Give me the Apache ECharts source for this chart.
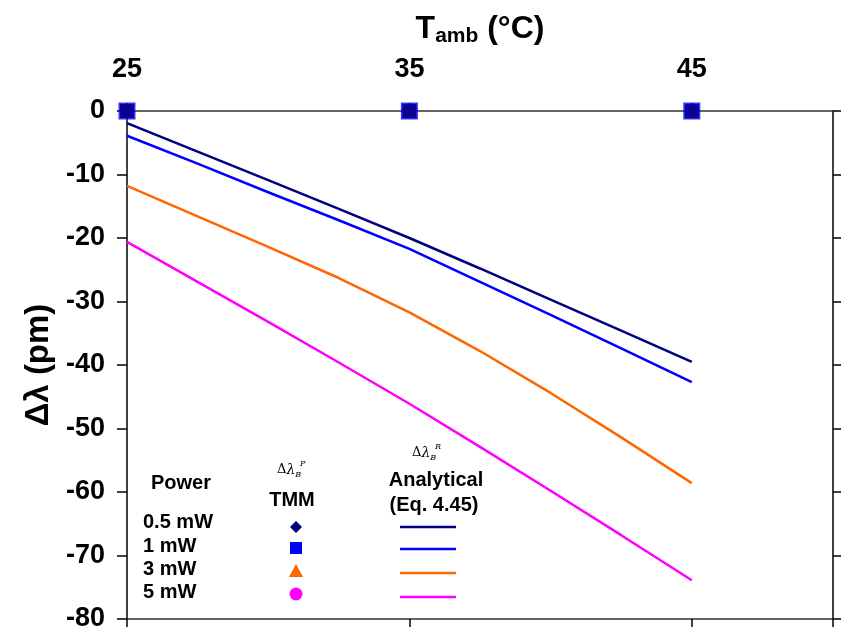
<!DOCTYPE html>
<html>
<head>
<meta charset="utf-8">
<script src="https://cdn.jsdelivr.net/npm/echarts@6/dist/echarts.min.js"></script>
<style>
  html, body { margin: 0; padding: 0; background: #fff; }
  #chart { width: 841px; height: 636px; }
</style>
</head>
<body>
<div id="chart"></div>
<script>
// Ambient temperature (°C) sampled by the analytical model
const temps = [25, 27.5, 30, 32.5, 35, 37.5, 40, 42.5, 45];
// Analytical wavelength shift (pm) per heater power
const analytical05mW = [-1.9, -6.4, -10.9, -15.4, -20.0, -24.8, -29.7, -34.6, -39.5];
const analytical1mW  = [-3.9, -8.3, -12.8, -17.2, -21.7, -26.9, -32.1, -37.4, -42.7];
const analytical3mW  = [-11.8, -16.6, -21.4, -26.3, -31.7, -37.8, -44.4, -51.4, -58.6];
const analytical5mW  = [-20.6, -26.9, -33.2, -39.6, -46.1, -52.9, -59.8, -66.8, -73.9];

// TMM simulation points
const tmmTemps = [25, 35, 45];
const tmm05mW = [0, 0, 0];
const tmm1mW  = [0, 0, 0];
const tmm3mW  = [0, 0, 0];
const tmm5mW  = [0, 0, 0];

// Axis tick labels
const xTickLabels = [25, 35, 45];
const powers = ['0.5 mW', '1 mW', '3 mW', '5 mW'];

const colors = ['#000080', '#0000FF', '#FF6600', '#FF00FF'];
const FONT = '"Liberation Sans", Arial, sans-serif';
const LFONT = '"Liberation Sans", Arial, sans-serif';

const pairs = (xs, ys) => xs.map((x, i) => [x, ys[i]]);

const chart = echarts.init(document.getElementById('chart'), null, { renderer: 'canvas' });

const lineSeries = [analytical05mW, analytical1mW, analytical3mW, analytical5mW].map((vals, i) => ({
  name: 'Analytical ' + powers[i],
  type: 'line',
  data: pairs(temps, vals),
  symbol: 'none',
  smooth: false,
  lineStyle: { color: colors[i], width: 2.5 },
  z: 3
}));

// TMM markers; drawn back to front so the 0.5 mW marker sits on top
const tmmSpec = [
  { vals: tmm5mW, color: colors[3], symbol: 'circle', size: 15 },
  { vals: tmm3mW, color: colors[2], symbol: 'triangle', size: 15 },
  { vals: tmm1mW, color: colors[1], symbol: 'rect', size: 17 },
  { vals: tmm05mW, color: colors[0], symbol: 'rect', size: 14 }
];
const scatterSeries = tmmSpec.map((s, i) => ({
  name: 'TMM ' + i,
  type: 'scatter',
  data: pairs(tmmTemps, s.vals),
  symbol: s.symbol,
  symbolSize: s.size,
  itemStyle: { color: s.color },
  clip: false,
  z: 5 + i
}));

// Legend table drawn as graphic elements
const legendX = { power: 143, marker: 296, lineStart: 400, lineEnd: 456 };
const rowY = [522, 546, 569, 592];
const markerY = [527, 548, 571, 594];
const lineY = [527, 549, 573, 597];
const legendSymbols = [
  { type: 'polygon', shape: { points: [[0, -6], [6, 0], [0, 6], [-6, 0]] } },
  { type: 'rect', shape: { x: -6, y: -6, width: 12, height: 12 } },
  { type: 'polygon', shape: { points: [[0, -7], [7, 6], [-7, 6]] } },
  { type: 'circle', shape: { cx: 0, cy: 0, r: 6.5 } }
];
const LEG_FONT = 'bold 20px ' + LFONT;
const deltaRich = {
  d: { font: '13px "DejaVu Serif", serif' },
  l: { font: 'italic 14px "DejaVu Serif", serif' },
  s: { font: 'italic 8px "DejaVu Serif", serif', padding: [9, 0, 0, 0] }
};

const graphic = [
  { type: 'text', x: 181, y: 483, style: { text: 'Power', font: LEG_FONT, fill: '#000', align: 'center', verticalAlign: 'middle' } },
  { type: 'text', x: 292, y: 500, style: { text: 'TMM', font: LEG_FONT, fill: '#000', align: 'center', verticalAlign: 'middle' } },
  { type: 'text', x: 436, y: 480, style: { text: 'Analytical', font: LEG_FONT, fill: '#000', align: 'center', verticalAlign: 'middle' } },
  { type: 'text', x: 434, y: 505, style: { text: '(Eq. 4.45)', font: LEG_FONT, fill: '#000', align: 'center', verticalAlign: 'middle' } },
  { type: 'text', x: 277, y: 470, style: { text: '{d|Δ}{l|λ}{s|B}', verticalAlign: 'middle', fill: '#000', rich: deltaRich } },
  { type: 'text', x: 300, y: 460, style: { text: 'P', font: 'italic 8px "DejaVu Serif", serif', fill: '#000' } },
  { type: 'text', x: 412, y: 453, style: { text: '{d|Δ}{l|λ}{s|B}', verticalAlign: 'middle', fill: '#000', rich: deltaRich } },
  { type: 'text', x: 435, y: 443, style: { text: 'R', font: 'italic 8px "DejaVu Serif", serif', fill: '#000' } }
];
powers.forEach((p, i) => {
  graphic.push({ type: 'text', x: legendX.power, y: rowY[i], style: { text: p, font: LEG_FONT, fill: '#000', verticalAlign: 'middle' } });
  const sym = Object.assign({}, legendSymbols[i], { x: legendX.marker, y: markerY[i], style: { fill: colors[i] } });
  graphic.push(sym);
  graphic.push({ type: 'line', shape: { x1: legendX.lineStart, y1: lineY[i], x2: legendX.lineEnd, y2: lineY[i] }, style: { stroke: colors[i], lineWidth: 2.5 } });
});

const axisLineStyle = { color: '#333', width: 1.5 };

const option = {
  backgroundColor: '#fff',
  animation: false,
  grid: { left: 127, right: 8, top: 111, bottom: 17, containLabel: false },
  xAxis: [
    {
      type: 'value', position: 'top', min: 25, max: 50, interval: 10,
      name: 'T{sub|amb} (°C)', nameLocation: 'middle', nameGap: 64,
      nameTextStyle: {
        fontFamily: LFONT, fontWeight: 'bold', fontSize: 32, color: '#000',
        rich: { sub: { fontFamily: LFONT, fontWeight: 'bold', fontSize: 21, color: '#000', padding: [14, 0, 0, 0] } }
      },
      axisLine: { show: true, onZero: false, lineStyle: axisLineStyle },
      axisTick: { show: true, inside: false, length: 8, lineStyle: { color: '#000', width: 1.5 } },
      axisLabel: {
        show: true, margin: 28, fontFamily: FONT, fontWeight: 'bold', fontSize: 27, color: '#000',
        showMaxLabel: false,
        formatter: v => (xTickLabels.indexOf(v) >= 0 ? String(v) : '')
      },
      splitLine: { show: false }
    },
    {
      type: 'value', position: 'bottom', min: 25, max: 50, interval: 10,
      axisLine: { show: true, onZero: false, lineStyle: axisLineStyle },
      axisTick: { show: true, inside: false, length: 8, lineStyle: { color: '#000', width: 1.5 } },
      axisLabel: { show: false },
      splitLine: { show: false }
    }
  ],
  yAxis: [
    {
      type: 'value', position: 'left', min: -80, max: 0, interval: 10,
      name: 'Δλ (pm)', nameLocation: 'middle', nameGap: 71, nameRotate: 90,
      nameTextStyle: { fontFamily: LFONT, fontWeight: 'bold', fontSize: 33, color: '#000' },
      axisLine: { show: true, onZero: false, lineStyle: { color: '#000', width: 1.5 } },
      axisTick: { show: true, inside: false, length: 10, lineStyle: { color: '#000', width: 1.5 } },
      axisLabel: { margin: 22, fontFamily: FONT, fontWeight: 'bold', fontSize: 27, color: '#000' },
      splitLine: { show: false }
    },
    {
      type: 'value', position: 'right', min: -80, max: 0, interval: 10,
      axisLine: { show: true, onZero: false, lineStyle: { color: '#000', width: 1.5 } },
      axisTick: { show: true, inside: false, length: 8, lineStyle: { color: '#000', width: 1.5 } },
      axisLabel: { show: false },
      splitLine: { show: false }
    }
  ],
  series: lineSeries.concat(scatterSeries),
  graphic: graphic
};

chart.setOption(option);
</script>
</body>
</html>
